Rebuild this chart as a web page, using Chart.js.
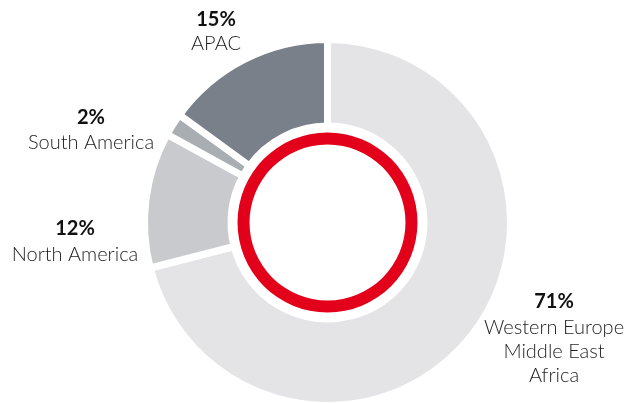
<!DOCTYPE html>
<html>
<head>
<meta charset="utf-8">
<script src="https://cdn.jsdelivr.net/npm/chart.js@4/dist/chart.umd.min.js"></script>
<style>
  html, body { margin: 0; padding: 0; background: #fff; }
  #wrap { width: 625px; height: 403px; position: relative; }
</style>
</head>
<body>
<div id="wrap"><canvas id="regionChart"></canvas></div>
<script>
// revenue share by region, clockwise from 12 o'clock
const regions = ['Western Europe Middle East Africa', 'North America', 'South America', 'APAC'];
const shares = [71, 12, 2, 15];
const labelLines = [
  ['Western Europe', 'Middle East', 'Africa'],
  ['North America'],
  ['South America'],
  ['APAC']
];

const sliceColors = ['#e4e4e6', '#c9cacd', '#a9aeb3', '#79808a'];
const ringRed = '#e2001a';

// where each label block sits (centre x, baseline of the % line, line gaps)
const labelSpots = [
  { x: 554, y: 307.5, gaps: [26.5, 24, 23.5] },
  { x: 75, y: 235, gaps: [26] },
  { x: 91, y: 124, gaps: [24.5] },
  { x: 216, y: 25.5, gaps: [24.5] }
];

const sliceLabels = {
  id: 'sliceLabels',
  afterDraw(chart) {
    const ctx = chart.ctx;
    ctx.save();
    ctx.textAlign = 'center';
    ctx.textBaseline = 'alphabetic';
    shares.forEach((v, i) => {
      const spot = labelSpots[i];
      let y = spot.y;
      ctx.font = '700 20px Lato';
      ctx.fillStyle = '#111111';
      ctx.fillText(v + '%', spot.x, y);
      ctx.font = '300 20px Lato';
      ctx.fillStyle = '#1e1e1e';
      labelLines[i].forEach((line, j) => {
        y += spot.gaps[j];
        ctx.fillText(line, spot.x, y);
      });
    });
    ctx.restore();
  }
};

new Chart(document.getElementById('regionChart'), {
  type: 'doughnut',
  data: {
    labels: regions,
    datasets: [
      {
        data: shares,
        backgroundColor: sliceColors,
        borderColor: '#ffffff',
        borderWidth: 7,
        weight: 86.5
      },
      {
        // white gap between the slices and the red ring
        data: [1],
        backgroundColor: 'rgba(0,0,0,0)',
        borderWidth: 0,
        weight: 6.5
      },
      {
        data: [1],
        backgroundColor: ringRed,
        borderWidth: 0,
        weight: 12
      }
    ]
  },
  options: {
    responsive: true,
    maintainAspectRatio: false,
    animation: false,
    events: [],
    radius: 183,
    cutout: '42.62%',
    rotation: 0,
    layout: { padding: { left: 30, top: 42, right: 0, bottom: 0 } },
    plugins: {
      legend: { display: false },
      tooltip: { enabled: false }
    }
  },
  plugins: [sliceLabels]
});
</script>
</body>
</html>
